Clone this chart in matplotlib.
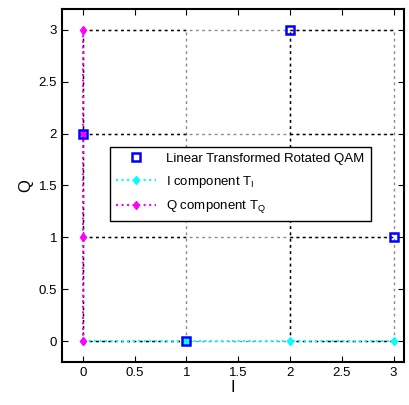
import matplotlib
matplotlib.use('Agg')
import matplotlib.pyplot as plt

plt.rcParams['font.family'] = ['Liberation Sans', 'DejaVu Sans']
plt.rcParams['mathtext.default'] = 'regular'

# constellation points
qam_i = [0, 1, 2, 3]
qam_q = [2, 0, 3, 1]

# component points
ti_x = [0, 1, 2, 3]
ti_y = [0, 0, 0, 0]
tq_x = [0, 0, 0, 0]
tq_y = [0, 1, 2, 3]

grid_levels = [0, 1, 2, 3]
black_cols = [0, 2]
black_segs = [(0, 1), (2, 3)]

fig = plt.figure(figsize=(4.09, 4.05), dpi=100)
ax = fig.add_axes([0.1516, 0.1062, 0.836, 0.8716])

# gray lattice lines
for g in grid_levels:
    ax.plot([g, g], [0, 3], linestyle=(0, (2, 2.5)), color='#8a8a8a', linewidth=1)
    ax.plot([0, 3], [g, g], linestyle=(0, (2, 2.5)), color='#8a8a8a', linewidth=1)

# black dashed lines
for c in black_cols:
    ax.plot([c, c], [0, 3], linestyle=(0, (2, 2.5)), color='black', linewidth=1)
for g in grid_levels:
    for a, b in black_segs:
        ax.plot([a, b], [g, g], linestyle=(0, (2, 2.5)), color='black', linewidth=1)

ax.plot(qam_i, qam_q, linestyle='none', marker='s', markersize=6,
        markerfacecolor='none', markeredgecolor='#0000ff', markeredgewidth=1.8,
        label='Linear Transformed Rotated QAM', zorder=5)
ax.plot(ti_x, ti_y, linestyle=':', color='cyan', linewidth=1.5, marker='d',
        markersize=4.5, label=r'I component T$_I$', zorder=4)
ax.plot(tq_x, tq_y, linestyle=':', color='magenta', linewidth=1.5, marker='d',
        markersize=4.5, label=r'Q component T$_Q$', zorder=4)

ax.set_xlim(-0.2, 3.1)
ax.set_ylim(-0.2, 3.2)
ax.set_xticks([0, 0.5, 1, 1.5, 2, 2.5, 3])
ax.set_yticks([0, 0.5, 1, 1.5, 2, 2.5, 3])
ax.set_xticklabels(['0', '0.5', '1', '1.5', '2', '2.5', '3'])
ax.set_yticklabels(['0', '0.5', '1', '1.5', '2', '2.5', '3'])
ax.tick_params(direction='in', top=True, right=True, labelsize=9.5, length=4)
for s in ax.spines.values():
    s.set_linewidth(1.5)

ax.set_xlabel('I', fontsize=12, labelpad=1)
ax.set_ylabel('Q', fontsize=12, labelpad=4)

leg = ax.legend(loc='upper left', bbox_to_anchor=(0.122, 0.628), fontsize=9.5,
                fancybox=False, edgecolor='black', framealpha=1,
                handlelength=3, borderpad=0.45, labelspacing=0.65)
leg.get_frame().set_linewidth(1)

fig.savefig('out.png', dpi=100)
